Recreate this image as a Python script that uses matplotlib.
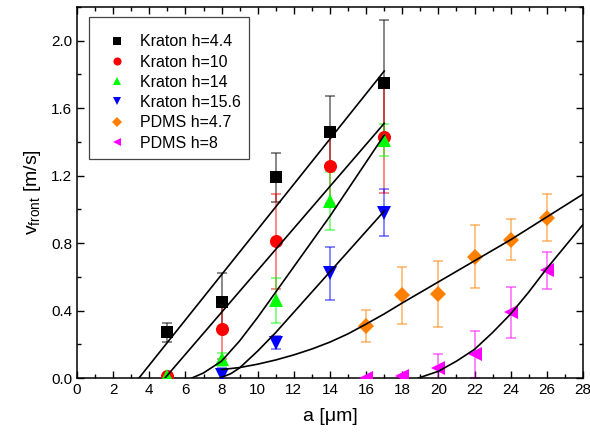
import numpy as np
import matplotlib
matplotlib.use('Agg')
import matplotlib.pyplot as plt
from matplotlib.ticker import MultipleLocator

plt.rcParams['font.family'] = ['Liberation Sans', 'DejaVu Sans']

# measured points: a [um], v_front [m/s], error
k44_a = [5, 8, 11, 14, 17]
k44_v = [0.27, 0.45, 1.19, 1.46, 1.75]
k44_e = [0.055, 0.17, 0.145, 0.21, 0.37]

k10_a = [5, 8, 11, 14, 17]
k10_v = [0.01, 0.29, 0.81, 1.26, 1.43]
k10_e = [0.01, 0.18, 0.28, 0.22, 0.33]

k14_a = [5, 8, 11, 14, 17]
k14_v = [0.01, 0.11, 0.46, 1.05, 1.41]
k14_e = [0.01, 0.04, 0.135, 0.17, 0.095]

k156_a = [8, 11, 14, 17]
k156_v = [0.02, 0.21, 0.62, 0.98]
k156_e = [0.04, 0.04, 0.155, 0.14]

p47_a = [16, 18, 20, 22, 24, 26]
p47_v = [0.31, 0.49, 0.50, 0.72, 0.82, 0.95]
p47_e = [0.095, 0.17, 0.195, 0.185, 0.12, 0.14]

p8_a = [16, 18, 20, 22, 24, 26]
p8_v = [0.0, 0.01, 0.06, 0.14, 0.39, 0.64]
p8_e = [0.0, 0.01, 0.08, 0.14, 0.15, 0.11]

# fit curves
fit44_a = [3.43, 17.0]
fit44_v = [0.0, 1.82]
fit10_a = [4.87, 17.0]
fit10_v = [0.0, 1.51]
fit14_a = [6.36, 7, 8, 9, 10, 11, 12, 13, 14, 15, 16, 17]
fit14_v = [0.0, 0.03, 0.10, 0.22, 0.36, 0.51, 0.66, 0.81, 0.96, 1.12, 1.28, 1.44]
fit156_a = [7.9, 8.5, 9, 10, 11, 12, 13, 14, 15, 16, 17]
fit156_v = [0.0, 0.025, 0.06, 0.16, 0.27, 0.39, 0.51, 0.63, 0.75, 0.87, 0.99]
fit47_a = [8.0, 9, 10, 11, 12, 13, 14, 15, 16, 17, 18, 20, 22, 24, 26, 28]
fit47_v = [0.05, 0.062, 0.082, 0.107, 0.137, 0.172, 0.213, 0.262, 0.32, 0.38, 0.445,
           0.57, 0.695, 0.82, 0.955, 1.09]
fit8_a = [18.9, 20, 21, 22, 23, 24, 25, 26, 27, 28]
fit8_v = [0.0, 0.04, 0.10, 0.17, 0.27, 0.38, 0.51, 0.65, 0.78, 0.91]

series = [
    (k44_a, k44_v, k44_e, 's', 'black', 8.6, 'Kraton h=4.4'),
    (k10_a, k10_v, k10_e, 'o', 'red', 9.4, 'Kraton h=10'),
    (k14_a, k14_v, k14_e, '^', '#00ff00', 10, 'Kraton h=14'),
    (k156_a, k156_v, k156_e, 'v', 'blue', 10, 'Kraton h=15.6'),
    (p47_a, p47_v, p47_e, 'D', '#ff7f00', 8, 'PDMS h=4.7'),
    (p8_a, p8_v, p8_e, '<', '#ff00ff', 10, 'PDMS h=8'),
]
fits = [(fit44_a, fit44_v), (fit10_a, fit10_v), (fit14_a, fit14_v),
        (fit156_a, fit156_v), (fit47_a, fit47_v), (fit8_a, fit8_v)]

fig = plt.figure(figsize=(5.9, 4.44), dpi=100)
ax = fig.add_axes([77/590, 66/444, 506/590, 371/444])

for a, v, e, m, c, ms, lab in series:
    ax.errorbar(a, v, yerr=e, fmt='none', ecolor=c, alpha=0.55,
                elinewidth=1.2, capsize=3.5, capthick=1.2, zorder=2)
    ax.plot(a, v, linestyle='none', marker=m, color=c, markersize=ms,
            markeredgewidth=0, label=lab, zorder=3)

for a, v in fits:
    ax.plot(a, v, color='black', linewidth=1.2, zorder=4)

ax.set_xlim(0, 28)
ax.set_ylim(0, 2.2)
ax.xaxis.set_major_locator(MultipleLocator(2))
ax.xaxis.set_minor_locator(MultipleLocator(1))
ax.yaxis.set_major_locator(MultipleLocator(0.4))
ax.yaxis.set_minor_locator(MultipleLocator(0.2))
ax.set_yticks(np.arange(0, 2.01, 0.4))
ax.set_yticklabels(['%.1f' % t for t in np.arange(0, 2.01, 0.4)])
ax.tick_params(which='both', direction='in', top=True, right=True, labelsize=11)
ax.tick_params(which='major', length=5, width=1)
ax.tick_params(which='minor', length=3, width=1)
for s in ax.spines.values():
    s.set_linewidth(1.1)

ax.set_xlabel('a [μm]', fontsize=14, labelpad=8)
ax.set_ylabel(r'$\mathregular{v_{front}}$ [m/s]', fontsize=14, labelpad=6)

leg = ax.legend(loc='upper left', bbox_to_anchor=(12/506, 1-10/371),
                borderaxespad=0, fontsize=11.5, markerscale=0.62,
                numpoints=1, fancybox=False, edgecolor='#444444',
                framealpha=1, labelspacing=0.33, handlelength=2.5,
                handletextpad=0.2, borderpad=0.5,
                title=' ', title_fontsize=2)
leg.get_frame().set_linewidth(0.9)

fig.savefig('out.png', dpi=100)
